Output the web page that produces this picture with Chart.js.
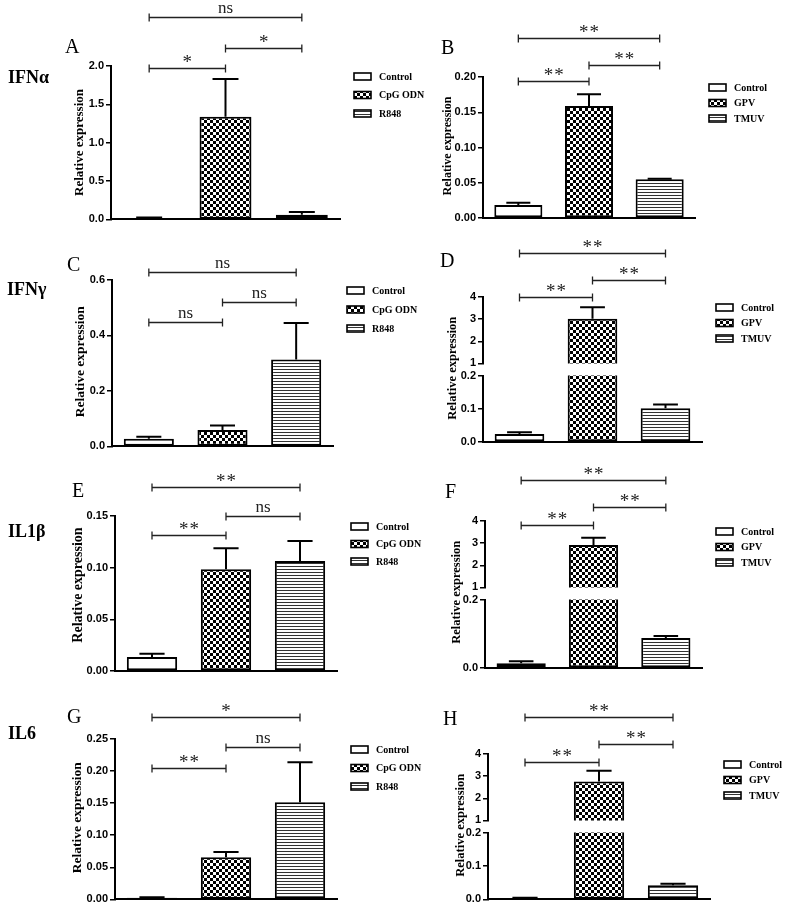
<!DOCTYPE html>
<html>
<head>
<meta charset="utf-8">
<script src="https://cdn.jsdelivr.net/npm/chart.js@4.4.0/dist/chart.umd.min.js"></script>
<style>
    html, body { margin: 0; padding: 0; background: #fff; }
    #fig { position: relative; width: 787px; height: 908px; overflow: hidden; }
    #fig canvas { position: absolute; }
    .lbl { position: absolute; font-family: 'Liberation Serif', 'Times New Roman', serif; white-space: nowrap; color: #000; }
</style>
</head>
<body>
<div id="fig"></div>
<script>
// Groups
const leftGroups = ['Control', 'CpG ODN', 'R848'];
const rightGroups = ['Control', 'GPV', 'TMUV'];

// Means and mean + SD (top of error bar)
const ifnaLeft = [0.018, 1.337, 0.06];
const ifnaLeftTop = [0.025, 1.83, 0.095];
const ifnaRight = [0.0184, 0.159, 0.0549];
const ifnaRightTop = [0.0217, 0.1755, 0.0557];
const ifngLeft = [0.0275, 0.0587, 0.313];
const ifngLeftTop = [0.0349, 0.0755, 0.445];
const ifngRight = [0.024, 3.02, 0.102];
const ifngRightTop = [0.029, 3.54, 0.113];
const il1bLeft = [0.0136, 0.0984, 0.1065];
const il1bLeftTop = [0.0168, 0.1188, 0.1258];
const il1bRight = [0.0136, 2.92, 0.0878];
const il1bRightTop = [0.0194, 3.24, 0.0936];
const il6Left = [0.0026, 0.0657, 0.1516];
const il6LeftTop = [0.0032, 0.0739, 0.2137];
const il6Right = [0.004, 2.76, 0.042];
const il6RightTop = [0.005, 3.24, 0.047];

// Tick labels
const ticksA = [0, 0.5, 1.0, 1.5, 2.0];
const ticksB = [0, 0.05, 0.10, 0.15, 0.20];
const ticksC = [0, 0.2, 0.4, 0.6];
const ticksE = [0, 0.05, 0.10, 0.15];
const ticksG = [0, 0.05, 0.10, 0.15, 0.20, 0.25];
const ticksHigh = [1, 2, 3, 4];
const ticksLow = [0, 0.1, 0.2];
const ticksLowF = [0, 0.2];

// Significance brackets: [from group, to group, height (y units), label]
const sigA = [[0, 1, 1.974, '*'], [1, 2, 2.233, '*'], [0, 2, 2.634, 'ns']];
const sigB = [[0, 1, 0.194, '**'], [1, 2, 0.217, '**'], [0, 2, 0.255, '**']];
const sigC = [[0, 1, 0.449, 'ns'], [1, 2, 0.521, 'ns'], [0, 2, 0.629, 'ns']];
const sigD = [[0, 1, 4.0, '**'], [1, 2, 4.76, '**'], [0, 2, 5.97, '**']];
const sigE = [[0, 1, 0.1317, '**'], [1, 2, 0.150, 'ns'], [0, 2, 0.178, '**']];
const sigF = [[0, 1, 3.82, '**'], [1, 2, 4.63, '**'], [0, 2, 5.84, '**']];
const sigG = [[0, 1, 0.205, '**'], [1, 2, 0.2376, 'ns'], [0, 2, 0.284, '*']];
const sigH = [[0, 1, 3.64, '**'], [1, 2, 4.45, '**'], [0, 2, 5.66, '**']];

const fig = document.getElementById('fig');
const YW = 40;  // fixed width of the y axis box
const cols = [{ x: 0, w: 425 }, { x: 393, w: 394 }];
const rows = [{ y: 0, h: 228 }, { y: 228, h: 227 }, { y: 455, h: 225 }, { y: 680, h: 228 }];

function makePattern(kind) {
    const c = document.createElement('canvas');
    const g = c.getContext('2d');
    if (kind === 'checker') {
        c.width = 6; c.height = 6;
        g.fillStyle = '#fff'; g.fillRect(0, 0, 6, 6);
        g.fillStyle = '#000'; g.fillRect(0, 0, 3, 3); g.fillRect(3, 3, 3, 3);
    } else {
        c.width = 4; c.height = 3;
        g.fillStyle = '#fff'; g.fillRect(0, 0, 4, 3);
        g.fillStyle = '#333'; g.fillRect(0, 0, 4, 1);
    }
    return g.createPattern(c, 'repeat');
}
const fills = ['#ffffff', makePattern('checker'), makePattern('stripes')];

// error bars: line from bar top up to mean+SD, with a cap
const errorBars = {
    id: 'errorBars',
    afterDatasetsDraw(chart) {
        const { ctx, chartArea: a } = chart;
        const ds = chart.data.datasets[0];
        const y = chart.scales.y;
        ctx.save();
        ctx.beginPath();
        ctx.rect(a.left, a.top - 2, a.right - a.left, a.bottom - a.top + 2);
        ctx.clip();
        ctx.strokeStyle = '#000';
        ctx.lineWidth = 2;
        chart.getDatasetMeta(0).data.forEach((bar, i) => {
            const top = y.getPixelForValue(ds.top[i]);
            const half = bar.width / 4;
            ctx.beginPath();
            ctx.moveTo(bar.x, bar.y);
            ctx.lineTo(bar.x, top);
            ctx.moveTo(bar.x - half, top);
            ctx.lineTo(bar.x + half, top);
            ctx.stroke();
        });
        ctx.restore();
    }
};

// brackets + legend
const extras = {
    id: 'extras',
    afterDraw(chart, args, opts) {
        if (!opts.sig) return;
        const { ctx, chartArea: a } = chart;
        const x = chart.scales.x, y = chart.scales.y;
        ctx.save();
        ctx.strokeStyle = '#222';
        ctx.fillStyle = '#222';
        ctx.lineWidth = 1.3;
        ctx.textAlign = 'center';
        ctx.textBaseline = 'alphabetic';
        opts.sig.forEach(([i, j, v, label]) => {
            const x1 = x.getPixelForValue(i), x2 = x.getPixelForValue(j);
            const yy = Math.round(y.getPixelForValue(v)) + 0.5;
            ctx.beginPath();
            ctx.moveTo(x1, yy); ctx.lineTo(x2, yy);
            ctx.moveTo(x1, yy - 4); ctx.lineTo(x1, yy + 4);
            ctx.moveTo(x2, yy - 4); ctx.lineTo(x2, yy + 4);
            ctx.stroke();
            if (label === 'ns') {
                ctx.letterSpacing = '0px';
                ctx.font = '17px "Liberation Serif"';
                ctx.fillText(label, (x1 + x2) / 2, yy - 5);
            } else {
                ctx.letterSpacing = '1px';
                ctx.font = '19px "Liberation Serif"';
                ctx.fillText(label, (x1 + x2) / 2 + 0.5, yy - 1);
            }
        });
        ctx.letterSpacing = '0px';
        // legend
        const lx = a.right + 14;
        ctx.textAlign = 'left';
        ctx.textBaseline = 'middle';
        ctx.font = 'bold 10px "Liberation Serif"';
        chart.data.labels.forEach((name, k) => {
            const ly = a.top + 10 + k * opts.legendGap;
            ctx.fillStyle = fills[k];
            ctx.fillRect(lx, ly - 3, 17, 7);
            ctx.strokeStyle = '#000';
            ctx.lineWidth = 1.6;
            ctx.strokeRect(lx, ly - 3, 17, 7);
            ctx.fillStyle = '#000';
            ctx.fillText(name, lx + 25, ly + 1);
        });
        ctx.restore();
    }
};

function makeChart(box, area, groups, values, top, ticks, dec, showX, extraOpts) {
    const cv = document.createElement('canvas');
    cv.width = box.w; cv.height = box.h;
    cv.style.left = box.x + 'px';
    cv.style.top = box.y + 'px';
    fig.appendChild(cv);
    return new Chart(cv, {
        type: 'bar',
        data: {
            labels: groups,
            datasets: [{
                data: values,
                top: top,
                backgroundColor: fills,
                borderColor: '#000',
                borderWidth: 2,
                borderSkipped: false,
                barPercentage: 0.68,
                categoryPercentage: 1,
                clip: 0
            }]
        },
        options: {
            responsive: false,
            animation: false,
            devicePixelRatio: 1,
            events: [],
            layout: {
                padding: {
                    left: area.L - box.x - YW,
                    top: area.T - box.y,
                    right: box.x + box.w - area.R,
                    bottom: box.y + box.h - area.B
                }
            },
            plugins: {
                legend: { display: false },
                tooltip: { enabled: false },
                extras: extraOpts || {}
            },
            scales: {
                x: {
                    type: 'category',
                    offset: true,
                    ticks: { display: false },
                    grid: { display: false },
                    border: { display: showX, color: '#000', width: 2 },
                    afterFit: s => { s.height = 0; }
                },
                y: {
                    type: 'linear',
                    min: ticks[0],
                    max: ticks[ticks.length - 1],
                    afterBuildTicks: s => { s.ticks = ticks.map(v => ({ value: v })); },
                    afterFit: s => { s.width = YW; },
                    ticks: {
                        color: '#000',
                        padding: 2,
                        font: { family: 'Liberation Sans', weight: 'bold', size: 11 },
                        callback: v => v.toFixed(dec)
                    },
                    grid: { display: true, drawOnChartArea: false, drawTicks: true, tickLength: 5, color: '#000', lineWidth: 1.5 },
                    border: { display: true, color: '#000', width: 2 }
                }
            }
        },
        plugins: [errorBars, extras]
    });
}

function addText(text, x, baseline, size, weight) {
    const d = document.createElement('div');
    d.className = 'lbl';
    d.textContent = text;
    d.style.fontSize = size + 'px';
    d.style.lineHeight = size + 'px';
    d.style.fontWeight = weight;
    d.style.left = x + 'px';
    d.style.top = (baseline - 0.8375 * size) + 'px';
    fig.appendChild(d);
}

function addYTitle(cx, cy, size) {
    const d = document.createElement('div');
    d.className = 'lbl';
    d.textContent = 'Relative expression';
    d.style.fontSize = size + 'px';
    d.style.fontWeight = 'bold';
    d.style.width = '200px';
    d.style.height = (size + 4) + 'px';
    d.style.lineHeight = (size + 4) + 'px';
    d.style.textAlign = 'center';
    d.style.left = (cx - 100) + 'px';
    d.style.top = (cy - (size + 4) / 2) + 'px';
    d.style.transform = 'rotate(-90deg)';
    fig.appendChild(d);
}

// single-scale panels (left column + B)
function singlePanel(col, row, area, groups, values, top, ticks, dec, sig, gap) {
    const box = { x: cols[col].x, y: rows[row].y, w: cols[col].w, h: rows[row].h };
    makeChart(box, area, groups, values, top, ticks, dec, true, { sig: sig, legendGap: gap });
}

// broken-axis panels: upper 1-4 segment and lower 0-0.2 segment
function brokenPanel(col, row, L, R, hi, lo, values, top, lowTicks, sig) {
    const c = cols[col], r = rows[row];
    const upBox = { x: c.x, y: r.y, w: c.w, h: hi.B + 8 - r.y };
    const loBox = { x: c.x, y: lo.T - 8, w: c.w, h: r.y + r.h - (lo.T - 8) };
    makeChart(loBox, { L: L, R: R, T: lo.T, B: lo.B }, rightGroups, values, top, lowTicks, 1, true, null);
    makeChart(upBox, { L: L, R: R, T: hi.T, B: hi.B }, rightGroups, values, top, ticksHigh, 0, false, { sig: sig, legendGap: 15.5 });
}

singlePanel(0, 0, { L: 111, R: 340, T: 66, B: 221 }, leftGroups, ifnaLeft, ifnaLeftTop, ticksA, 1, sigA, 18.5);
singlePanel(1, 0, { L: 483, R: 695, T: 77, B: 218 }, rightGroups, ifnaRight, ifnaRightTop, ticksB, 2, sigB, 15.5);
singlePanel(0, 1, { L: 112, R: 333, T: 280, B: 447 }, leftGroups, ifngLeft, ifngLeftTop, ticksC, 1, sigC, 19);
brokenPanel(1, 1, 483, 702, { T: 297, B: 364 }, { T: 375, B: 442 }, ifngRight, ifngRightTop, ticksLow, sigD);
singlePanel(0, 2, { L: 115, R: 337, T: 516, B: 671 }, leftGroups, il1bLeft, il1bLeftTop, ticksE, 2, sigE, 17.5);
brokenPanel(1, 2, 485, 702, { T: 521, B: 588 }, { T: 599, B: 668 }, il1bRight, il1bRightTop, ticksLowF, sigF);
singlePanel(0, 3, { L: 115, R: 337, T: 739, B: 900 }, leftGroups, il6Left, il6LeftTop, ticksG, 2, sigG, 18.5);
brokenPanel(1, 3, 488, 710, { T: 754, B: 821 }, { T: 832, B: 900 }, il6Right, il6RightTop, ticksLow, sigH);

// axis titles
addYTitle(78, 142.5, 13);
addYTitle(447, 146, 12);
addYTitle(80, 362, 13.5);
addYTitle(452, 368.5, 12.5);
addYTitle(78, 585, 14);
addYTitle(456, 592, 12.5);
addYTitle(77, 818, 13.5);
addYTitle(460, 825, 12.5);

// gene names and panel letters
addText('IFNα', 8, 83, 18, 'bold');
addText('IFNγ', 7, 295, 18, 'bold');
addText('IL1β', 8, 537, 18, 'bold');
addText('IL6', 8, 739, 18, 'bold');
addText('A', 65, 53, 20, 'normal');
addText('B', 441, 54, 20, 'normal');
addText('C', 67, 271, 20, 'normal');
addText('D', 440, 267, 20, 'normal');
addText('E', 72, 497, 20, 'normal');
addText('F', 445, 498, 20, 'normal');
addText('G', 67, 723, 20, 'normal');
addText('H', 443, 725, 20, 'normal');
</script>
</body>
</html>
